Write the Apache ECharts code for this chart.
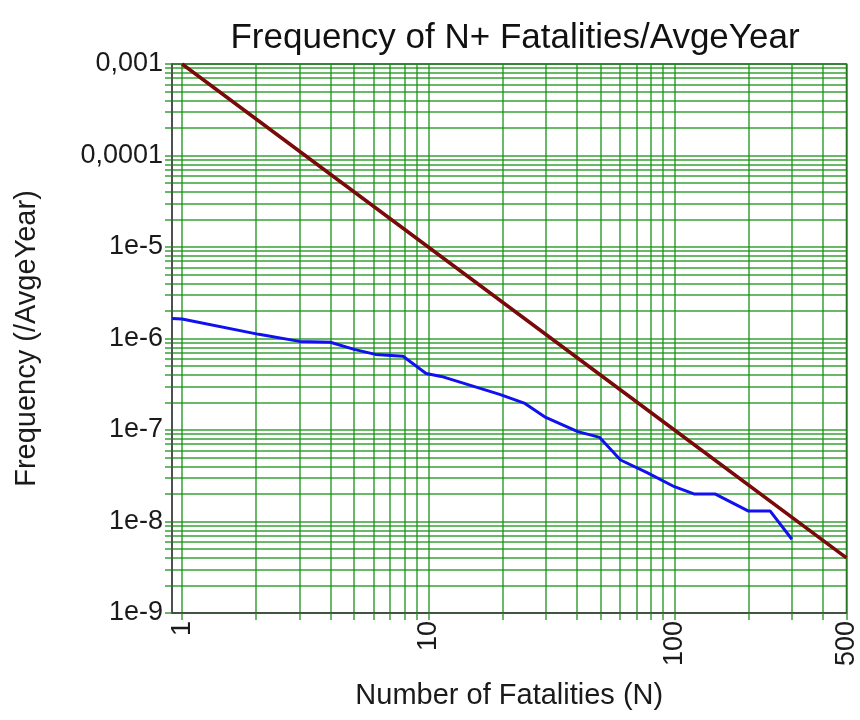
<!DOCTYPE html>
<html>
<head>
<meta charset="utf-8">
<script src="https://cdn.jsdelivr.net/npm/echarts@6/dist/echarts.min.js"></script>
<style>html,body{margin:0;padding:0;background:#fff;}#chart{width:860px;height:720px;}</style>
</head>
<body>
<div id="chart"></div>
<script>
// ---- data ----
var blueN    = [0.91, 1, 2.05, 3.0, 4.0, 5.0, 6.1, 7.9, 9.8, 11.3, 19.5, 24.7, 30, 40.5, 49.7, 60.4, 77.8, 100, 120, 146, 200, 245, 300];
var blueFreq = [1.65e-6, 1.63e-6, 1.11e-6, 9.3e-7, 9.1e-7, 7.6e-7, 6.7e-7, 6.4e-7, 4.15e-7, 3.85e-7, 2.45e-7, 1.95e-7, 1.37e-7, 9.6e-8, 8.3e-8, 4.7e-8, 3.4e-8, 2.4e-8, 2.0e-8, 2.0e-8, 1.3e-8, 1.3e-8, 6.4e-9];
var redN     = [1, 10, 100, 500];
var redFreq  = [1e-3, 1e-5, 1e-7, 4e-9];
var xTickValues = [1, 10, 100, 500];
var xTickLabels = ['1', '10', '100', '500'];
var yTickValues = [1e-9, 1e-8, 1e-7, 1e-6, 1e-5, 1e-4, 1e-3];
var yTickLabels = ['1e-9', '1e-8', '1e-7', '1e-6', '1e-5', '0,0001', '0,001'];
var xGridValues = [1,2,3,4,5,6,7,8,9,10,20,30,40,50,60,70,80,90,100,200,300,400,500];
var yGridValues = [];
[1e-9,1e-8,1e-7,1e-6,1e-5,1e-4].forEach(function(d){ for (var k=1;k<=9;k++) yGridValues.push(+(k*d).toPrecision(3)); });
yGridValues.push(1e-3);

function pair(a, b){ return a.map(function(v,i){ return [v, b[i]]; }); }
function lookup(vals, labels, v){
  for (var i=0;i<vals.length;i++){ if (Math.abs(v - vals[i]) <= vals[i]*1e-6) return labels[i]; }
  return '';
}
var green = 'rgba(20,145,20,0.85)';
var font = 'Liberation Sans';
var chart = echarts.init(document.getElementById('chart'));
chart.setOption({
  animation: false,
  backgroundColor: '#fff',
  title: {
    text: 'Frequency of N+ Fatalities/AvgeYear',
    left: 510, top: 16, textAlign: 'center',
    textStyle: { fontFamily: font, fontSize: 35, fontWeight: 'normal', color: '#111' }
  },
  grid: { left: 172, right: 11, top: 64, bottom: 107, show: true, borderColor: '#444', borderWidth: 1.5, backgroundColor: 'transparent' },
  xAxis: {
    type: 'log', logBase: 10, min: 0.91, max: 500,
    name: 'Number of Fatalities (N)', nameLocation: 'middle', nameGap: 68,
    nameTextStyle: { fontFamily: font, fontSize: 29, color: '#1a1a1a' },
    axisLine: { show: true, onZero: false, lineStyle: { color: '#444', width: 1.5 } },
    axisTick: { show: true, customValues: xGridValues, length: 7, lineStyle: { color: green, width: 1.5 } },
    axisLabel: {
      customValues: xTickValues, rotate: 90, margin: 8,
      fontFamily: font, fontSize: 27, color: '#1a1a1a',
      formatter: function(v){ return lookup(xTickValues, xTickLabels, v); }
    },
    splitLine: { show: true, lineStyle: { color: green, width: 1.5 } }
  },
  yAxis: {
    type: 'log', logBase: 10, min: 1e-9, max: 1e-3,
    name: 'Frequency (/AvgeYear)', nameLocation: 'middle', nameGap: 131, nameRotate: 90,
    nameTextStyle: { fontFamily: font, fontSize: 29, color: '#1a1a1a' },
    axisLine: { show: true, onZero: false, lineStyle: { color: '#444', width: 1.5 } },
    axisTick: { show: true, customValues: yGridValues, length: 7, lineStyle: { color: green, width: 1.5 } },
    axisLabel: {
      customValues: yTickValues, margin: 9,
      fontFamily: font, fontSize: 27, color: '#1a1a1a',
      formatter: function(v){ return lookup(yTickValues, yTickLabels, v); }
    },
    splitLine: { show: true, lineStyle: { color: green, width: 1.5 } }
  },
  series: [
    { type: 'line', data: pair(redN, redFreq), symbol: 'none', lineStyle: { color: '#7a0a0a', width: 3.5 }, z: 3 },
    { type: 'line', data: pair(blueN, blueFreq), symbol: 'none', lineStyle: { color: '#1010f0', width: 3 }, z: 4 }
  ]
});
</script>
</body>
</html>
